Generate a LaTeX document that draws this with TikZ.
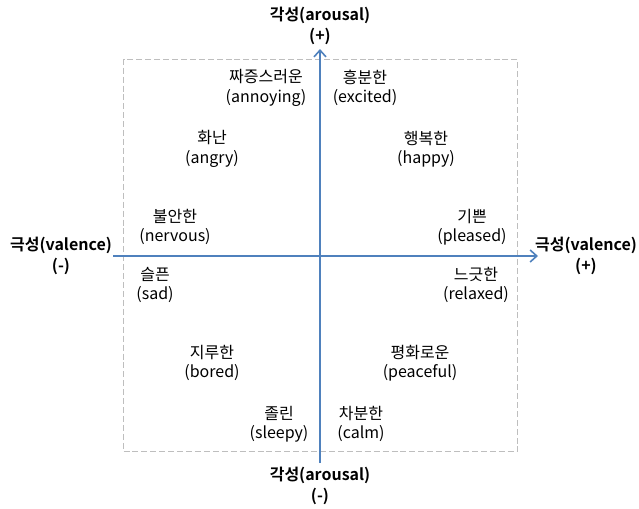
\documentclass[tikz,border=0pt]{standalone}
\usepackage{fontspec}
\setmainfont{Noto Sans CJK KR}[BoldFont={Noto Sans CJK KR Bold}]
\usetikzlibrary{arrows.meta}
\definecolor{axisblue}{RGB}{79,129,189}
\definecolor{boxgray}{RGB}{190,190,190}
\tikzset{
  emo/.style={align=center, inner sep=0pt, font=\fontsize{12}{14.5}\selectfont},
  axislbl/.style={align=center, inner sep=0pt, font=\fontsize{12}{16}\selectfont\bfseries},
  axisline/.style={axisblue, line width=1.5pt, -{Straight Barb[length=5pt,width=9pt,line width=1.2pt]}}
}
\begin{document}
\begin{tikzpicture}[x=0.75pt,y=-0.75pt]
   \useasboundingbox (0,0) rectangle (639,508);
   % quadrant frame
   \node[draw=boxgray, dash pattern=on 4.5pt off 2.2pt, line width=0.75pt,
         minimum width=295.5pt, minimum height=294pt, inner sep=0pt]
         (frame) at (320.5,255.5) {};
   % axes ends
   \coordinate (vbot) at (320,463);
   \coordinate (vtop) at (320,49);
   \coordinate (hleft) at (113,256);
   \coordinate (hright) at (538,256);
   \draw[axisline] (vbot) -- (vtop);
   \draw[axisline] (hleft) -- (hright);

   \node[axislbl] (atop)   at (320,26)  {각성(arousal)\\(+)};
   \node[axislbl] (abot)   at (320,486) {각성(arousal)\\(-)};
   \node[axislbl] (vleft)  at (61,256)  {극성(valence)\\(-)};
   \node[axislbl] (vright) at (586,256) {극성(valence)\\(+)};

   \node[emo] (annoy)   at (266,88)  {짜증스러운\\(annoying)};
   \node[emo] (excite)  at (365,88)  {흥분한\\(excited)};
   \node[emo] (angry)   at (212,149) {화난\\(angry)};
   \node[emo] (happy)   at (426,149) {행복한\\(happy)};
   \node[emo] (nervous) at (175,227) {불안한\\(nervous)};
   \node[emo] (pleased) at (472,227) {기쁜\\(pleased)};
   \node[emo] (sad)     at (155,285) {슬픈\\(sad)};
   \node[emo] (relax)   at (476,285) {느긋한\\(relaxed)};
   \node[emo] (bored)   at (212,363) {지루한\\(bored)};
   \node[emo] (peace)   at (420,363) {평화로운\\(peaceful)};
   \node[emo] (sleepy)  at (279,424) {졸린\\(sleepy)};
   \node[emo] (calm)    at (361,424) {차분한\\(calm)};
\end{tikzpicture}
\end{document}
